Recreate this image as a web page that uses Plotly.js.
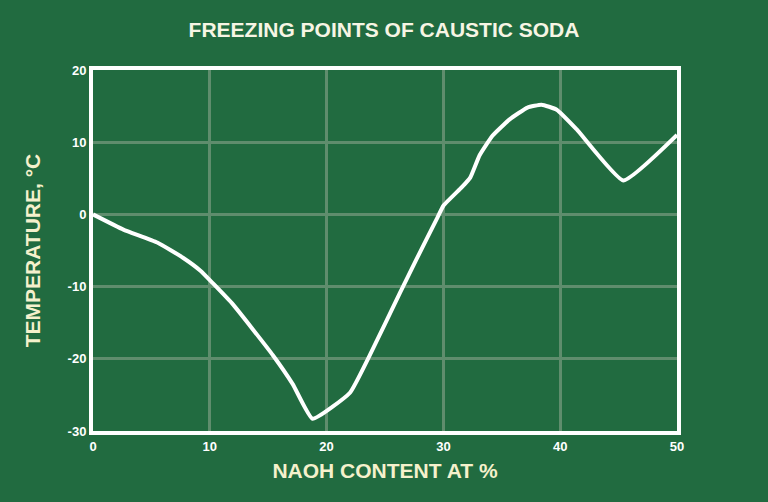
<!DOCTYPE html>
<html>
<head>
<meta charset="utf-8">
<script src="https://cdn.plot.ly/plotly-3.0.1.min.js"></script>
<style>
  html, body { margin: 0; padding: 0; background: #216b40; }
  #graph { width: 768px; height: 502px; }
</style>
</head>
<body>
<div id="graph"></div>
<script>
// NaOH content (%) and freezing temperature (°C)
const naohContent = [0, 2.6, 5.5, 7.7, 9.2, 10.3, 12, 15.4, 17.1, 18.8, 22, 23.7, 26.3, 27.7, 29.5, 30,
    31.6, 32.3, 33.1, 34.2, 35.7, 37.2, 38.4, 39.7, 41.4, 45.4, 50]
const freezingPoint = [0, -2.1, -3.9, -6.0, -7.8, -9.6, -12.5, -19.5, -23.5, -28.3, -24.7, -19.5, -10.8, -6.2, -0.4, 1.2,
    3.8, 5.1, 8.2, 10.9, 13.2, 14.8, 15.2, 14.5, 11.8, 4.7, 11]

const xTicks = [0, 10, 20, 30, 40, 50]
const yTicks = [-30, -20, -10, 0, 10, 20]

const bg = '#216b40'
const cream = '#f5f1cc'
const gridColor = '#5f8d6d'
const fontFamily = 'Liberation Sans, Arial, sans-serif'

let data = [
    {
        type: 'scatter',
        mode: 'lines',
        x: naohContent,
        y: freezingPoint,
        line: {color: '#ffffff', width: 4, shape: 'spline', smoothing: 0.4},
        hoverinfo: 'skip'
    }
]

let axisCommon = {
    showgrid: true,
    gridcolor: gridColor,
    gridwidth: 3,
    zeroline: false,
    showline: true,
    mirror: true,
    linecolor: '#ffffff',
    linewidth: 4,
    ticks: '',
    tickfont: {family: fontFamily, size: 13, color: '#ffffff', weight: 'bold'}
}

let layout = {
    width: 768,
    height: 502,
    margin: {l: 93, r: 91, t: 70, b: 71},
    paper_bgcolor: bg,
    plot_bgcolor: bg,
    showlegend: false,
    title: {
        text: '<b>FREEZING POINTS OF CAUSTIC SODA</b>',
        x: 0.5,
        xanchor: 'center',
        y: 0.94,
        yanchor: 'middle',
        font: {family: fontFamily, size: 21, color: '#f7f5e4'}
    },
    xaxis: Object.assign({}, axisCommon, {
        range: [0, 50],
        tickvals: xTicks,
        ticktext: xTicks.map(String),
        title: {
            text: '<b>NAOH CONTENT AT %</b>',
            standoff: 12,
            font: {family: fontFamily, size: 21, color: cream}
        }
    }),
    yaxis: Object.assign({}, axisCommon, {
        range: [-30, 20],
        tickvals: yTicks,
        ticktext: yTicks.map(String),
        title: {
            text: '<b>TEMPERATURE, °C</b>',
            standoff: 22,
            font: {family: fontFamily, size: 21, color: cream}
        }
    })
}

Plotly.newPlot('graph', data, layout, {displayModeBar: false, staticPlot: true})
</script>
</body>
</html>
